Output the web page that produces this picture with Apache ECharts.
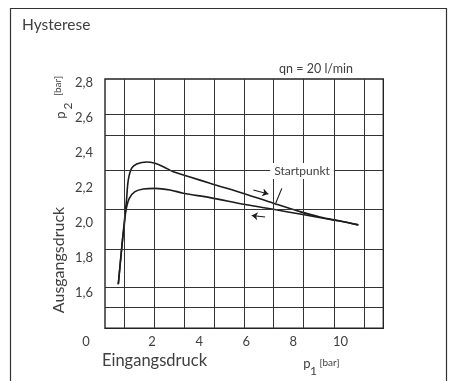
<!DOCTYPE html>
<html>
<head>
<meta charset="utf-8">
<script src="https://cdn.jsdelivr.net/npm/echarts@6/dist/echarts.min.js"></script>
<style>
  html, body { margin: 0; padding: 0; background: #fff; }
  #chart { width: 449px; height: 381px; }
</style>
</head>
<body>
<div id="chart"></div>
<script>
// Tick labels on both axes (p1 and p2 in bar)
const xTickValues = [0, 2, 4, 6, 8, 10];
const yTickValues = [1.6, 1.8, 2.0, 2.2, 2.4, 2.6, 2.8];

// Positions of the printed grid raster, in axis units
const gridLinesX = [0.82, 2.09, 3.36, 4.63, 5.93, 7.15, 8.42, 9.72, 10.99];
const gridLinesY = [2.621, 2.505, 2.298, 2.085, 1.855, 1.630, 1.516];

// Upper branch: p1 rising from the start, outlet pressure p2
const upperP1 = [0.565, 0.743, 0.828, 0.913, 0.99, 1.134, 1.347, 1.771, 2.124, 2.477, 2.902, 3.61, 4.46, 5.95, 7.15, 8.28, 9.13, 9.98, 10.76];
const upperP2 = [1.650, 1.903, 2.017, 2.131, 2.246, 2.313, 2.337, 2.349, 2.341, 2.322, 2.293, 2.263, 2.227, 2.166, 2.113, 2.065, 2.034, 2.011, 1.989];

// Lower branch: p1 falling back
const lowerP1 = [0.565, 0.743, 0.82, 0.892, 1.032, 1.274, 1.627, 2.124, 2.761, 3.326, 4.46, 5.95, 7.15, 8.28, 9.69, 9.98, 10.76];
const lowerP2 = [1.650, 1.903, 1.989, 2.074, 2.141, 2.179, 2.194, 2.198, 2.189, 2.170, 2.145, 2.106, 2.078, 2.051, 2.017, 2.011, 1.989];

// Direction arrows and the pointer to the start point
const arrowForward = [[6.30, 2.189], [6.94, 2.166]];
const arrowBackward = [[6.80, 2.034], [6.23, 2.043]];
const startPointer = [[7.51, 2.198], [7.25, 2.113]];

const FONT = 'Lato, "Open Sans", sans-serif';
const INK = '#1c1c1c';
const TEXT = '#404040';

const zip = (a, b) => a.map((v, i) => [v, b[i]]);

const chart = echarts.init(document.getElementById('chart'), null, { renderer: 'canvas' });

chart.setOption({
  animation: false,
  backgroundColor: '#fff',
  grid: {
    left: 105, top: 79, width: 278.3, height: 249.3,
    show: true, borderColor: '#222', borderWidth: 1.4, backgroundColor: 'transparent'
  },
  xAxis: {
    type: 'value', min: 0, max: 11.82,
    axisLine: { show: false }, axisTick: { show: false }, splitLine: { show: false },
    axisLabel: {
      customValues: xTickValues, margin: 7,
      fontFamily: FONT, fontSize: 13, color: TEXT,
      formatter: v => v === 0 ? '{z|0}' : String(v),
      rich: { z: { fontFamily: FONT, fontSize: 13, color: TEXT, padding: [0, 38, 0, 0] } }
    }
  },
  yAxis: {
    type: 'value', min: 1.398, max: 2.823,
    axisLine: { show: false }, axisTick: { show: false }, splitLine: { show: false },
    axisLabel: {
      customValues: yTickValues, margin: 12,
      fontFamily: FONT, fontSize: 13, color: TEXT,
      formatter: v => v.toFixed(1).replace('.', ',')
    }
  },
  series: [
    {
      type: 'line', silent: true, data: [], z: 1,
      markLine: {
        silent: true, symbol: 'none', animation: false,
        label: { show: false },
        lineStyle: { type: 'solid', color: '#333', width: 1 },
        emphasis: { disabled: true },
        data: gridLinesX.map(x => ({ xAxis: x })).concat(gridLinesY.map(y => ({ yAxis: y })))
      }
    },
    {
      type: 'line', name: 'auf', data: zip(upperP1, upperP2), z: 3,
      showSymbol: false, smooth: 0.35,
      lineStyle: { color: INK, width: 1.6 }
    },
    {
      type: 'line', name: 'ab', data: zip(lowerP1, lowerP2), z: 3,
      showSymbol: false, smooth: 0.35,
      lineStyle: { color: INK, width: 1.6 }
    },
    {
      type: 'line', silent: true, data: [], z: 4,
      markLine: {
        silent: true, animation: false,
        label: { show: false },
        emphasis: { disabled: true },
        symbol: ['none', 'arrow'], symbolSize: 6,
        lineStyle: { type: 'solid', color: INK, width: 1.1 },
        data: [
          [{ coord: arrowForward[0] }, { coord: arrowForward[1] }],
          [{ coord: arrowBackward[0] }, { coord: arrowBackward[1] }],
          [{ coord: startPointer[0], symbol: 'none' }, { coord: startPointer[1], symbol: 'none' }]
        ]
      }
    }
  ],
  graphic: [
    { type: 'rect', silent: true, shape: { x: 10.5, y: 8.5, width: 436, height: 420 },
      style: { fill: 'none', stroke: '#333', lineWidth: 1.2 } },
    { type: 'text', x: 22, y: 25, silent: true,
      style: { text: 'Hysterese', font: '15.5px ' + FONT, fill: TEXT, verticalAlign: 'middle' } },
    { type: 'text', x: 316, y: 69, silent: true,
      style: { text: 'qn = 20 l/min', font: '12.5px ' + FONT, fill: TEXT, align: 'center', verticalAlign: 'middle' } },
    { type: 'text', x: 302, y: 171, silent: true, z: 10,
      style: { text: 'Startpunkt', font: '12px ' + FONT, fill: TEXT, align: 'center', verticalAlign: 'middle',
               backgroundColor: '#fff', padding: [2, 4] } },
    { type: 'text', x: 59, y: 260, rotation: Math.PI / 2, silent: true,
      style: { text: 'Ausgangsdruck', font: '16px ' + FONT, fill: TEXT, align: 'center', verticalAlign: 'middle' } },
    { type: 'text', x: 61, y: 115, rotation: Math.PI / 2, silent: true,
      style: { text: 'p', font: '13px ' + FONT, fill: TEXT, align: 'center', verticalAlign: 'middle' } },
    { type: 'text', x: 68, y: 106, rotation: Math.PI / 2, silent: true,
      style: { text: '2', font: '12px ' + FONT, fill: TEXT, align: 'center', verticalAlign: 'middle' } },
    { type: 'text', x: 58, y: 86, rotation: Math.PI / 2, silent: true,
      style: { text: '[bar]', font: '10px ' + FONT, fill: TEXT, align: 'center', verticalAlign: 'middle' } },
    { type: 'text', x: 154.5, y: 361, silent: true,
      style: { text: 'Eingangsdruck', font: '16.5px ' + FONT, fill: TEXT, align: 'center', verticalAlign: 'middle' } },
    { type: 'text', x: 307, y: 364, silent: true,
      style: { text: 'p', font: '13px ' + FONT, fill: TEXT, align: 'center', verticalAlign: 'middle' } },
    { type: 'text', x: 313.5, y: 371, silent: true,
      style: { text: '1', font: '12px ' + FONT, fill: TEXT, align: 'center', verticalAlign: 'middle' } },
    { type: 'text', x: 329.5, y: 363, silent: true,
      style: { text: '[bar]', font: '10px ' + FONT, fill: TEXT, align: 'center', verticalAlign: 'middle' } }
  ]
});
</script>
</body>
</html>
